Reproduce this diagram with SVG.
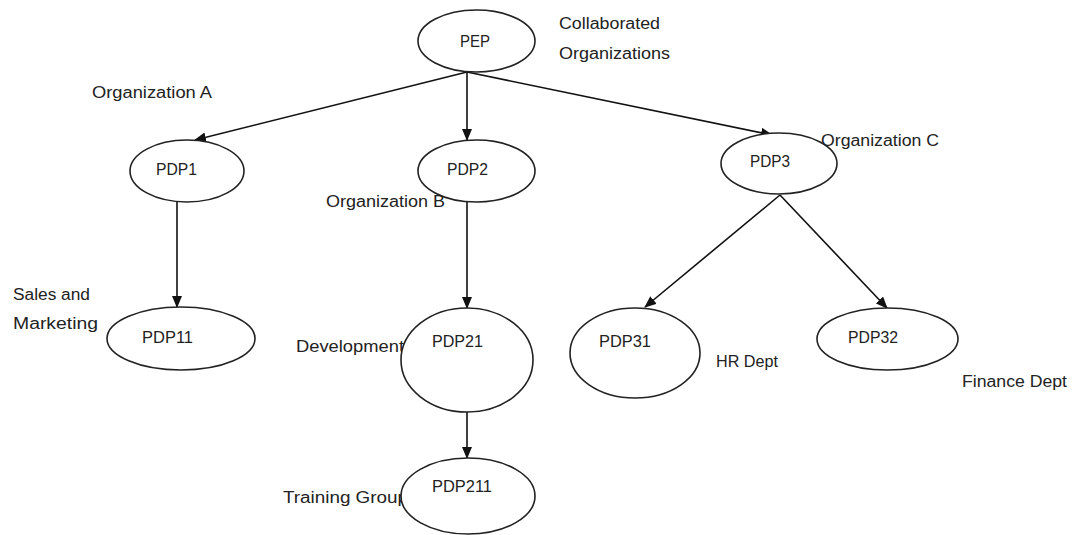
<svg xmlns="http://www.w3.org/2000/svg" width="1073" height="535" viewBox="0 0 1073 535">
<style>
text{font-family:"Liberation Sans",Arial,sans-serif;font-size:16px;fill:#222}
.node ellipse{fill:#fff;stroke:#222;stroke-width:1.6}
.conn line{stroke:#111;stroke-width:1.6;marker-end:url(#ah)}
</style>
<defs>
<marker id="ah" markerWidth="12" markerHeight="10" refX="11" refY="5" orient="auto" markerUnits="userSpaceOnUse">
<path d="M0,0 L12,5 L0,10 z" fill="#111"/>
</marker>
</defs>
<rect width="1073" height="535" fill="#fff"/>
<g id="labels">
<text x="559" y="29" textLength="101" lengthAdjust="spacingAndGlyphs">Collaborated</text>
<text x="559" y="59" textLength="111" lengthAdjust="spacingAndGlyphs">Organizations</text>
<text x="92" y="98" textLength="120" lengthAdjust="spacingAndGlyphs">Organization A</text>
<text x="326" y="207" textLength="119" lengthAdjust="spacingAndGlyphs">Organization B</text>
<text x="821" y="146" textLength="118" lengthAdjust="spacingAndGlyphs">Organization C</text>
<text x="13" y="300" textLength="77" lengthAdjust="spacingAndGlyphs">Sales and</text>
<text x="13" y="329" textLength="85" lengthAdjust="spacingAndGlyphs">Marketing</text>
<text x="296" y="352" textLength="108" lengthAdjust="spacingAndGlyphs">Development</text>
<text x="716" y="367" textLength="62" lengthAdjust="spacingAndGlyphs">HR Dept</text>
<text x="962" y="387" textLength="105" lengthAdjust="spacingAndGlyphs">Finance Dept</text>
<text x="283" y="503" textLength="125" lengthAdjust="spacingAndGlyphs">Training Group</text>
</g>
<g id="connectors" class="conn">
<line x1="467" y1="72" x2="195" y2="140"/>
<line x1="467" y1="72" x2="467" y2="140"/>
<line x1="467" y1="72" x2="772" y2="135"/>
<line x1="177" y1="202" x2="177" y2="307"/>
<line x1="467" y1="202" x2="467" y2="308"/>
<line x1="467" y1="412" x2="467" y2="458"/>
<line x1="780" y1="195" x2="645" y2="307"/>
<line x1="780" y1="195" x2="887" y2="308"/>
</g>
<g id="PEP" class="node"><ellipse cx="476.5" cy="41" rx="58.5" ry="31"/><text x="460" y="47" textLength="30" lengthAdjust="spacingAndGlyphs">PEP</text></g>
<g id="PDP1" class="node"><ellipse cx="187" cy="171" rx="57" ry="31"/><text x="156" y="175" textLength="41" lengthAdjust="spacingAndGlyphs">PDP1</text></g>
<g id="PDP2" class="node"><ellipse cx="476.5" cy="171" rx="58.5" ry="31"/><text x="447" y="175" textLength="41" lengthAdjust="spacingAndGlyphs">PDP2</text></g>
<g id="PDP3" class="node"><ellipse cx="779" cy="163.5" rx="58" ry="30.5"/><text x="750" y="167" textLength="40" lengthAdjust="spacingAndGlyphs">PDP3</text></g>
<g id="PDP11" class="node"><ellipse cx="181" cy="338.5" rx="74" ry="31.5"/><text x="142" y="343" textLength="51" lengthAdjust="spacingAndGlyphs">PDP11</text></g>
<g id="PDP21" class="node"><ellipse cx="467" cy="360" rx="66" ry="52"/><text x="432" y="347" textLength="51" lengthAdjust="spacingAndGlyphs">PDP21</text></g>
<g id="PDP211" class="node"><ellipse cx="468" cy="496" rx="67" ry="38"/><text x="432" y="492" textLength="60" lengthAdjust="spacingAndGlyphs">PDP211</text></g>
<g id="PDP31" class="node"><ellipse cx="635" cy="353" rx="65" ry="45"/><text x="599" y="347" textLength="52" lengthAdjust="spacingAndGlyphs">PDP31</text></g>
<g id="PDP32" class="node"><ellipse cx="887.5" cy="339" rx="70.5" ry="31"/><text x="848" y="343" textLength="50" lengthAdjust="spacingAndGlyphs">PDP32</text></g>
</svg>
